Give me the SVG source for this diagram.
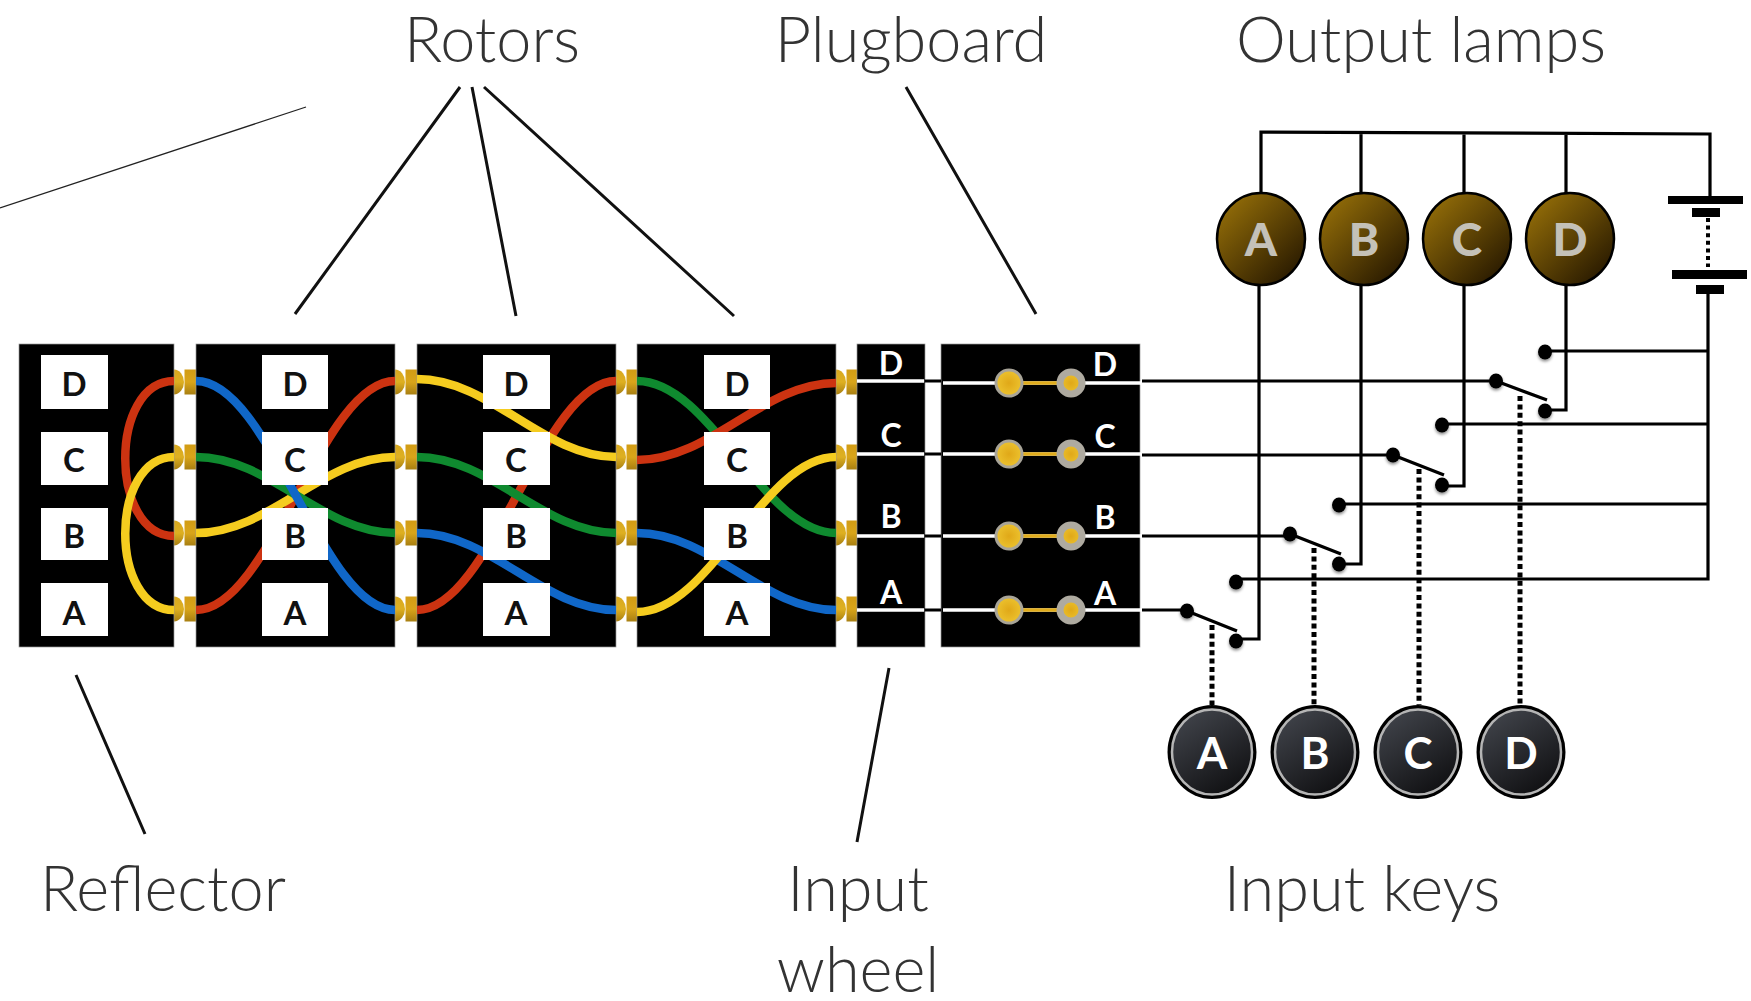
<svg xmlns="http://www.w3.org/2000/svg" xmlns:xlink="http://www.w3.org/1999/xlink" width="1751" height="1001" viewBox="0 0 1751 1001">
<style>
.title{font-family:"Lato","Liberation Sans",sans-serif;font-weight:300;font-size:63px;fill:#333;text-anchor:middle}
.panel{fill:#000;stroke:#999;stroke-width:.7}
.box{fill:#fff}
.lb{font-family:"Lato","Liberation Sans",sans-serif;font-weight:700;font-size:33px;fill:#111;text-anchor:middle}
.lw{font-family:"Lato","Liberation Sans",sans-serif;font-weight:700;font-size:32px;fill:#fff;text-anchor:middle}
.lamp{font-family:"Lato","Liberation Sans",sans-serif;font-weight:900;font-size:46px;fill:#c4c1b8;text-anchor:middle}
.key{font-family:"Lato","Liberation Sans",sans-serif;font-weight:700;font-size:44px;fill:#fff;text-anchor:middle}
.w{fill:none;stroke-width:8.5}
.red{stroke:#cc3311}.yel{stroke:#f5cc1f}.grn{stroke:#0f8a2f}.blu{stroke:#1067c8}
.wire{fill:none;stroke:#000;stroke-width:3.2}
.lead{fill:none;stroke:#111;stroke-width:3}
.dots{fill:none;stroke:#000;stroke-width:5;stroke-dasharray:5 3.4}
.dot{fill:#000;filter:url(#sh)}
.wl{fill:none;stroke:#fff;stroke-width:3.5}
.gl{fill:none;stroke:#e0ac1c;stroke-width:3.5}
.pl{fill:url(#plug);stroke:#a8a498;stroke-width:3}
.pr{fill:url(#plug);stroke:#aeaaa0;stroke-width:7}
.plate{fill:#000}
</style>
<defs>
<linearGradient id="gold" x1="0" y1="0" x2="0" y2="1"><stop offset="0" stop-color="#d8a820"/><stop offset=".5" stop-color="#deb021"/><stop offset="1" stop-color="#a87f12"/></linearGradient>
<linearGradient id="gold2" x1="0" y1="0" x2="0" y2="1"><stop offset="0" stop-color="#d29c14"/><stop offset=".5" stop-color="#d9a51a"/><stop offset="1" stop-color="#a87f12"/></linearGradient>
<radialGradient id="plug"><stop offset="0" stop-color="#e0a818"/><stop offset="1" stop-color="#ecc22e"/></radialGradient>
<linearGradient id="lampg" x1=".15" y1=".1" x2=".9" y2=".9"><stop offset="0" stop-color="#8f6a08"/><stop offset="1" stop-color="#281900"/></linearGradient>
<linearGradient id="keyg" x1=".2" y1="0" x2=".8" y2="1"><stop offset="0" stop-color="#41444b"/><stop offset="1" stop-color="#0e0e10"/></linearGradient>
<filter id="sh" x="-60%" y="-60%" width="220%" height="220%"><feDropShadow dx="0" dy="2" stdDeviation="1.5" flood-color="#000" flood-opacity=".45"/></filter>
<g id="pin"><ellipse cx="0" cy="0" rx="10" ry="12.5" fill="url(#gold)"/><rect x="10.5" y="-12.5" width="11.5" height="25" fill="url(#gold2)"/></g>
</defs>
<rect width="1751" height="1001" fill="#fff"/>

<g id="titles">
<text class="title" x="492" y="62">Rotors</text>
<text class="title" x="911" y="62">Plugboard</text>
<text class="title" x="1421" y="62">Output lamps</text>
<text class="title" x="163" y="911">Reflector</text>
<text class="title" x="858" y="911">Input</text>
<text class="title" x="858" y="992">wheel</text>
<text class="title" x="1362" y="911">Input keys</text>
</g>

<g id="pins">
<use xlink:href="#pin" x="174" y="382"/><use xlink:href="#pin" x="174" y="457"/><use xlink:href="#pin" x="174" y="533"/><use xlink:href="#pin" x="174" y="609"/>
<use xlink:href="#pin" x="395" y="382"/><use xlink:href="#pin" x="395" y="457"/><use xlink:href="#pin" x="395" y="533"/><use xlink:href="#pin" x="395" y="609"/>
<use xlink:href="#pin" x="616" y="382"/><use xlink:href="#pin" x="616" y="457"/><use xlink:href="#pin" x="616" y="533"/><use xlink:href="#pin" x="616" y="609"/>
<use xlink:href="#pin" x="836" y="382"/><use xlink:href="#pin" x="836" y="457"/><use xlink:href="#pin" x="836" y="533"/><use xlink:href="#pin" x="836" y="609"/>
</g>

<g id="reflector">
<rect class="panel" x="19" y="344" width="155" height="303"/>
<path class="w red" d="M174,381 C109,381 109,536 174,536"/>
<path class="w yel" d="M174,457 C109,457 109,610 174,610"/>
<rect class="box" x="41" y="355" width="67" height="54"/><rect class="box" x="41" y="432" width="67" height="53"/><rect class="box" x="41" y="508" width="67" height="52"/><rect class="box" x="41" y="583" width="67" height="53"/>
<text class="lb" x="74" y="396">D</text><text class="lb" x="74" y="472">C</text><text class="lb" x="74" y="548">B</text><text class="lb" x="74" y="625">A</text>
</g>

<g id="rotor1">
<rect class="panel" x="196" y="344" width="199" height="303"/>
<path class="w red" d="M196,610 C270,610 322,381 395,381"/>
<path class="w yel" d="M196,533 C270,533 322,457 395,457"/>
<path class="w grn" d="M196,457 C270,457 322,533 395,533"/>
<path class="w blu" d="M196,381 C270,381 322,610 395,610"/>
<rect class="box" x="262" y="355" width="66" height="54"/><rect class="box" x="262" y="432" width="66" height="53"/><rect class="box" x="262" y="508" width="66" height="52"/><rect class="box" x="262" y="583" width="66" height="53"/>
<text class="lb" x="295" y="396">D</text><text class="lb" x="295" y="472">C</text><text class="lb" x="295" y="548">B</text><text class="lb" x="295" y="625">A</text>
</g>

<g id="rotor2">
<rect class="panel" x="417" y="344" width="199" height="303"/>
<path class="w red" d="M417,610 C491,610 543,381 616,381"/>
<path class="w yel" d="M417,379 C491,379 543,457 616,457"/>
<path class="w grn" d="M417,457 C491,457 543,533 616,533"/>
<path class="w blu" d="M417,533 C491,533 543,610 616,610"/>
<rect class="box" x="483" y="355" width="67" height="54"/><rect class="box" x="483" y="432" width="67" height="53"/><rect class="box" x="483" y="508" width="67" height="52"/><rect class="box" x="483" y="583" width="67" height="53"/>
<text class="lb" x="516" y="396">D</text><text class="lb" x="516" y="472">C</text><text class="lb" x="516" y="548">B</text><text class="lb" x="516" y="625">A</text>
</g>

<g id="rotor3">
<rect class="panel" x="637" y="344" width="199" height="303"/>
<path class="w grn" d="M637,381 C711,381 763,533 836,533"/>
<path class="w red" d="M637,460 C711,460 763,383 836,383"/>
<path class="w blu" d="M637,533 C711,533 763,610 836,610"/>
<path class="w yel" d="M637,612 C711,612 763,457 836,457"/>
<rect class="box" x="704" y="355" width="66" height="54"/><rect class="box" x="704" y="432" width="66" height="53"/><rect class="box" x="704" y="508" width="66" height="52"/><rect class="box" x="704" y="583" width="66" height="53"/>
<text class="lb" x="737" y="396">D</text><text class="lb" x="737" y="472">C</text><text class="lb" x="737" y="548">B</text><text class="lb" x="737" y="625">A</text>
</g>

<g id="input-wheel">
<rect class="panel" x="857" y="344" width="68" height="303"/>
<path class="wl" d="M857,381H924M857,454H924M857,536H924M857,610H924"/>
<text class="lw" x="891" y="375">D</text><text class="lw" x="891" y="447">C</text><text class="lw" x="891" y="528">B</text><text class="lw" x="891" y="604">A</text>
</g>

<g id="plugboard">
<rect class="panel" x="941" y="344" width="199" height="303"/>
<path class="wl" d="M943,383H1142M943,454H1142M943,536H1142M943,610H1142"/>
<path class="gl" d="M1009,383H1071M1009,454H1071M1009,536H1071M1009,610H1071"/>
<circle class="pl" cx="1009" cy="383" r="13"/><circle class="pr" cx="1071" cy="383" r="11"/>
<circle class="pl" cx="1009" cy="454" r="13"/><circle class="pr" cx="1071" cy="454" r="11"/>
<circle class="pl" cx="1009" cy="536" r="13"/><circle class="pr" cx="1071" cy="536" r="11"/>
<circle class="pl" cx="1009" cy="610" r="13"/><circle class="pr" cx="1071" cy="610" r="11"/>
<text class="lw" x="1105" y="376">D</text><text class="lw" x="1105" y="448">C</text><text class="lw" x="1105" y="529">B</text><text class="lw" x="1105" y="605">A</text>
</g>

<g id="connectors">
<path class="lead" d="M460,87L295,314M472,87L516,316M484,87L734,316M906,87L1036,314M76,675L145,834M889,668L857,842"/>
<path d="M306,107L0,208" fill="none" stroke="#222" stroke-width="1.2"/>
<path class="wire" d="M925,381H941M925,454H941M925,536H941M925,610H941"/>
<path class="wire" d="M1142,381H1496M1142,455H1393M1142,536H1290M1142,610H1187"/>
<path class="wire" d="M1261,195V132L1710,134V196M1361,132V195M1464,132V195M1566,132V195"/>
<path class="wire" d="M1259,285V639H1236M1361,285V564H1339M1464,285V486H1442M1566,285V410H1545"/>
<path class="wire" d="M1708,294V579H1236M1708,504H1339M1708,424H1442M1708,351H1545"/>
<path class="wire" d="M1187,611L1237,631M1290,534L1341,554M1393,455L1444,475M1496,381L1547,400"/>
<path class="dots" d="M1212,625V705M1314,548V705M1419,469V705M1520,396V705"/>
<path d="M1708,218V267" fill="none" stroke="#000" stroke-width="4" stroke-dasharray="4 3.6"/>
<g class="dot"><ellipse cx="1187" cy="611" rx="7" ry="7.5"/><ellipse cx="1236" cy="582" rx="7" ry="7.5"/><ellipse cx="1236" cy="641" rx="7" ry="7.5"/>
<ellipse cx="1290" cy="534" rx="7" ry="7.5"/><ellipse cx="1339" cy="505" rx="7" ry="7.5"/><ellipse cx="1339" cy="564" rx="7" ry="7.5"/>
<ellipse cx="1393" cy="455" rx="7" ry="7.5"/><ellipse cx="1442" cy="425" rx="7" ry="7.5"/><ellipse cx="1442" cy="485" rx="7" ry="7.5"/>
<ellipse cx="1496" cy="381" rx="7" ry="7.5"/><ellipse cx="1545" cy="352" rx="7" ry="7.5"/><ellipse cx="1545" cy="411" rx="7" ry="7.5"/></g>
</g>

<g id="battery">
<rect class="plate" x="1668" y="196" width="75" height="8"/><rect class="plate" x="1692" y="208" width="28" height="9"/>
<rect class="plate" x="1672" y="270" width="75" height="9"/><rect class="plate" x="1696" y="285" width="28" height="9"/>
</g>

<g id="lamp-a"><ellipse cx="1261" cy="239" rx="44" ry="46" fill="url(#lampg)" stroke="#000" stroke-width="2.5"/><text class="lamp" x="1261" y="256">A</text></g>
<g id="lamp-b"><ellipse cx="1364" cy="239" rx="44" ry="46" fill="url(#lampg)" stroke="#000" stroke-width="2.5"/><text class="lamp" x="1364" y="256">B</text></g>
<g id="lamp-c"><ellipse cx="1467" cy="239" rx="44" ry="46" fill="url(#lampg)" stroke="#000" stroke-width="2.5"/><text class="lamp" x="1467" y="256">C</text></g>
<g id="lamp-d"><ellipse cx="1570" cy="239" rx="44" ry="46" fill="url(#lampg)" stroke="#000" stroke-width="2.5"/><text class="lamp" x="1570" y="256">D</text></g>

<g id="key-a"><ellipse cx="1212" cy="752" rx="44.5" ry="47" fill="#000"/><ellipse cx="1212" cy="752" rx="40" ry="42.5" fill="url(#keyg)" stroke="#b5b5b5" stroke-width="2.5"/><text class="key" x="1212" y="769">A</text></g>
<g id="key-b"><ellipse cx="1315" cy="752" rx="44.5" ry="47" fill="#000"/><ellipse cx="1315" cy="752" rx="40" ry="42.5" fill="url(#keyg)" stroke="#b5b5b5" stroke-width="2.5"/><text class="key" x="1315" y="769">B</text></g>
<g id="key-c"><ellipse cx="1418" cy="752" rx="44.5" ry="47" fill="#000"/><ellipse cx="1418" cy="752" rx="40" ry="42.5" fill="url(#keyg)" stroke="#b5b5b5" stroke-width="2.5"/><text class="key" x="1418" y="769">C</text></g>
<g id="key-d"><ellipse cx="1521" cy="752" rx="44.5" ry="47" fill="#000"/><ellipse cx="1521" cy="752" rx="40" ry="42.5" fill="url(#keyg)" stroke="#b5b5b5" stroke-width="2.5"/><text class="key" x="1521" y="769">D</text></g>
</svg>
